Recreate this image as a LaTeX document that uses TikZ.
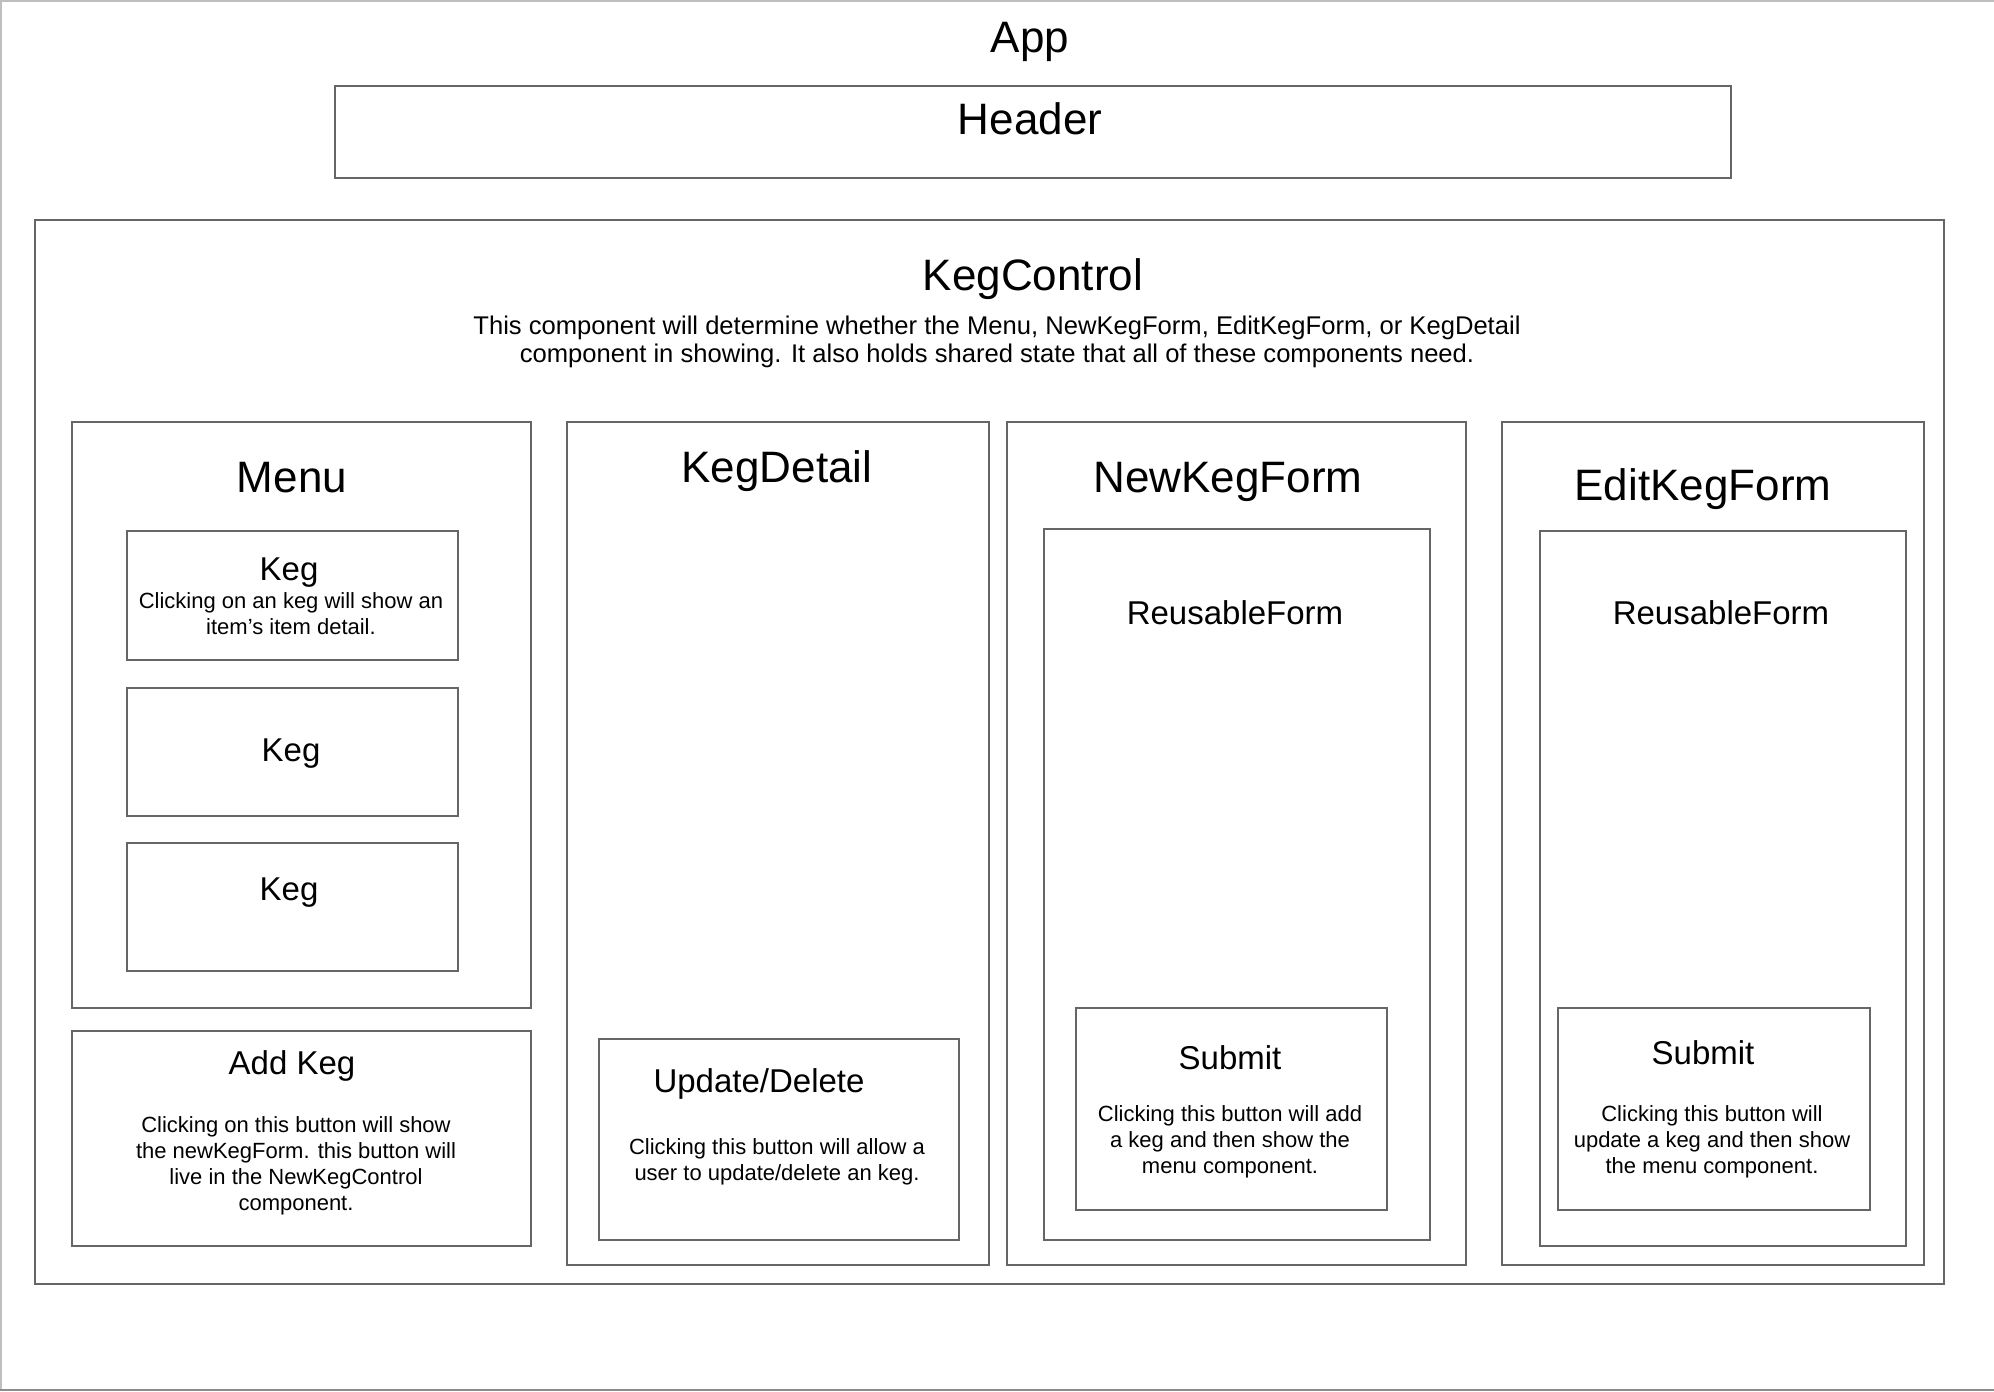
\documentclass[tikz,border=0pt]{standalone}
\usepackage{fontspec}
\setmainfont{Liberation Sans}
\tikzset{
  box/.style={draw=black!60,line width=1pt,rectangle,anchor=north west,inner sep=0pt},
  big/.style={font=\fontsize{22}{26}\selectfont},
  mid/.style={font=\fontsize{16.5}{20}\selectfont},
  note/.style={font=\fontsize{11}{13}\selectfont,align=center},
}
\begin{document}
\begin{tikzpicture}[x=0.5pt,y=-0.5pt]
        \useasboundingbox (0,0) rectangle (1994,1392);
        %% Page frame
        \draw[black!25,line width=1pt] (0.5,1389.5) -- (0.5,0.5) -- (1994,0.5);
        \draw[black!45,line width=1pt] (0,1389.5) -- (1994,1389.5);
        %% App and Header
        \node[big] (app) at (1030,42) {App};
        \node[box,minimum width=698pt,minimum height=46pt] (header) at (334,85) {};
        \node[big] (headertitle) at (1030,119) {Header};
        %% KegControl
        \node[box,minimum width=954.5pt,minimum height=532pt] (control) at (34,219) {};
        \node[big] (controltitle) at (1033,279) {KegControl};
        \node[font=\fontsize{12.8}{14}\selectfont,align=center] (controlnote) at (997,342)
          {This component will determine whether the Menu, NewKegForm, EditKegForm, or KegDetail\\
           component in showing. It also holds shared state that all of these components need.};
        %% Menu
        \node[box,minimum width=229.5pt,minimum height=293pt] (menu) at (71,421) {};
        \node[big] (menutitle) at (292,478) {Menu};
        \node[box,minimum width=165.5pt,minimum height=64.5pt] (kegA) at (126,530) {};
        \node[mid] (kegAtitle) at (289,573) {Keg};
        \node[note] (kegAnote) at (291,614) {Clicking on an keg will show an\\item's item detail.};
        \node[box,minimum width=165.5pt,minimum height=64pt] (kegB) at (126,687) {};
        \node[mid] (kegBtitle) at (291,754) {Keg};
        \node[box,minimum width=165.5pt,minimum height=64pt] (kegC) at (126,842) {};
        \node[mid] (kegCtitle) at (289,893) {Keg};
        %% Add Keg button
        \node[box,minimum width=229.5pt,minimum height=107.5pt] (addkeg) at (71,1030) {};
        \node[mid] (addkegtitle) at (292,1066) {Add Keg};
        \node[note] (addkegnote) at (296,1166) {Clicking on this button will show\\the newKegForm. this button will\\live in the NewKegControl\\component.};
        %% KegDetail
        \node[big] (detailtitle) at (777,471) {KegDetail};
        \node[box,minimum width=211pt,minimum height=421.5pt] (detail) at (566,421) {};
        \node[box,minimum width=180pt,minimum height=100.5pt] (update) at (598,1038) {};
        \node[mid] (updatetitle) at (759,1084) {Update/Delete};
        \node[note] (updatenote) at (777,1162) {Clicking this button will allow a\\user to update/delete an keg.};
        %% NewKegForm
        \node[box,minimum width=229.5pt,minimum height=421.5pt] (newform) at (1006,421) {};
        \node[big] (newformtitle) at (1228,482) {NewKegForm};
        \node[box,minimum width=193pt,minimum height=355.5pt] (newreuse) at (1043,528) {};
        \node[mid] (newreusetitle) at (1235,613) {ReusableForm};
        \node[box,minimum width=155.5pt,minimum height=101pt] (newsubmit) at (1075,1007) {};
        \node[mid] (newsubmittitle) at (1230,1058) {Submit};
        \node[note] (newsubmitnote) at (1230,1142) {Clicking this button will add\\a keg and then show the\\menu component.};
        %% EditKegForm
        \node[box,minimum width=211pt,minimum height=421.5pt] (editform) at (1501,421) {};
        \node[big] (editformtitle) at (1703,489) {EditKegForm};
        \node[box,minimum width=183pt,minimum height=357.5pt] (editreuse) at (1539,530) {};
        \node[mid] (editreusetitle) at (1721,613) {ReusableForm};
        \node[box,minimum width=156pt,minimum height=101pt] (editsubmit) at (1557,1007) {};
        \node[mid] (editsubmittitle) at (1703,1053) {Submit};
        \node[note] (editsubmitnote) at (1712,1142) {Clicking this button will\\update a keg and then show\\the menu component.};
    \end{tikzpicture}
\end{document}
